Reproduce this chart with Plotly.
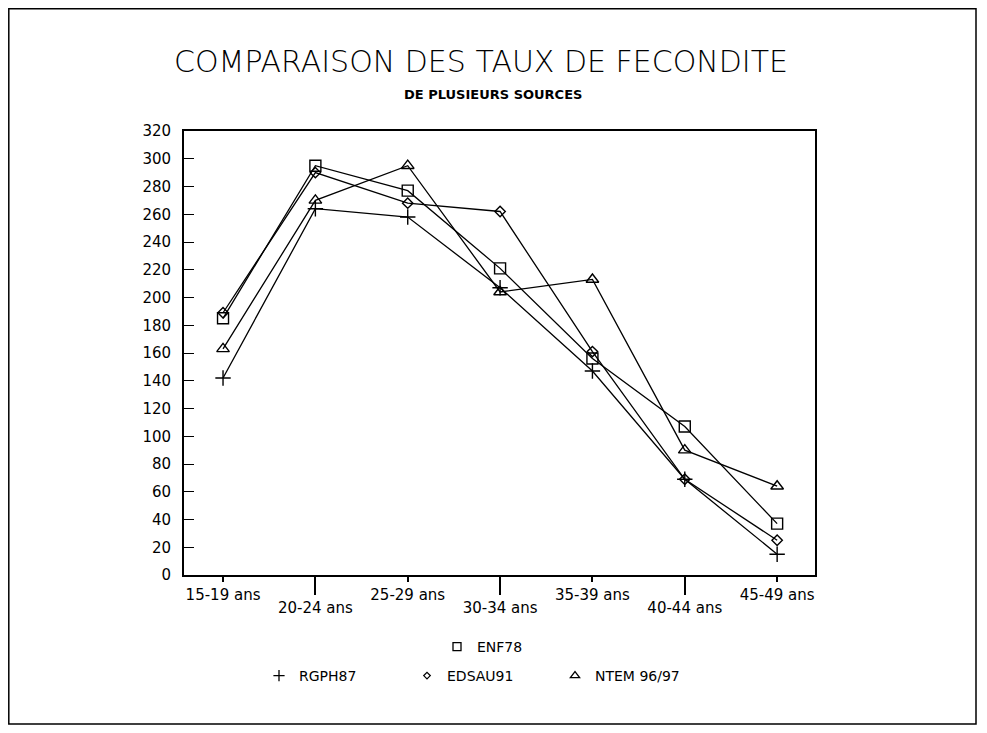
import plotly.graph_objects as go

categories = ["15-19 ans", "20-24 ans", "25-29 ans", "30-34 ans",
              "35-39 ans", "40-44 ans", "45-49 ans"]
enf78 = [185, 295, 277, 221, 156, 107, 37]
rgph87 = [142, 264, 258, 207, 147, 69, 15]
edsau91 = [189, 290, 268, 262, 161, 69, 25]
ntem9697 = [163, 270, 295, 204, 213, 90, 64]

title_text = "COMPARAISON DES TAUX DE FECONDITE"
subtitle_text = "DE PLUSIEURS SOURCES"

xpos = list(range(len(categories)))
even_idx = [i for i in xpos if i % 2 == 0]
odd_idx = [i for i in xpos if i % 2 == 1]

FONT = "DejaVu Sans"
# (name, values, symbol, size, legend, xaxis)
series = [
    ("ENF78", enf78, "square-open", 11, "legend", "x"),
    ("RGPH87", rgph87, "cross-thin-open", 11, "legend2", "x2"),
    ("EDSAU91", edsau91, "diamond-open", 8, "legend2", "x"),
    ("NTEM 96/97", ntem9697, "triangle-up-open", 11, "legend2", "x"),
]

# page offset (body margin) compensation
OFF = 8
W, H = 987 - 2 * OFF, 733 - 2 * OFF
L, R, T, B = 184 - OFF, 815 - OFF, 131 - OFF, 575 - OFF
xr = [-0.4226, 6.41]


def px_x(p):
    return (p - OFF - L) / (R - L)


def px_y(p):
    return (B - (p - OFF)) / (B - T)


fig = go.Figure()
for name, vals, sym, size, lg, xa in series:
    fig.add_trace(go.Scatter(
        x=xpos, y=vals, mode="lines+markers", name=name, xaxis=xa,
        line=dict(color="black", width=1.3),
        marker=dict(symbol=sym, size=size, color="black",
                    line=dict(color="black", width=1.4)),
        showlegend=False,
    ))
# legend-only entries (marker glyph only, as in the original)
for name, vals, sym, size, lg, xa in series:
    fig.add_trace(go.Scatter(
        x=[None], y=[None], mode="markers", name=name,
        marker=dict(symbol=sym, size=size - 3, color="black",
                    line=dict(color="black", width=1.3)),
        showlegend=True, legend=lg,
    ))

fig.update_layout(
    width=W, height=H,
    margin=dict(l=L, r=W - R, t=T, b=H - B, autoexpand=False),
    paper_bgcolor="white", plot_bgcolor="white",
    font=dict(family=FONT, size=13, color="black"),
    title=dict(text=title_text, x=(481 - OFF) / W, xref="container",
               xanchor="center", y=1 - (61 - OFF) / H, yref="container",
               yanchor="middle",
               font=dict(family=FONT, size=30, color="black", weight=300)),
    xaxis=dict(range=xr, tickmode="array", tickvals=even_idx,
               ticktext=[categories[i] for i in even_idx],
               ticks="outside", ticklen=5, tickwidth=1.5, tickcolor="black",
               showline=True, linecolor="black", linewidth=1.8, mirror=True,
               showgrid=False, zeroline=False,
               tickfont=dict(family=FONT, size=15)),
    xaxis2=dict(range=xr, overlaying="x", anchor="y", side="bottom",
                tickmode="array", tickvals=odd_idx,
                ticktext=[categories[i] for i in odd_idx],
                ticks="outside", ticklen=19, tickwidth=1.5, tickcolor="black",
                showline=False, showgrid=False, zeroline=False,
                tickfont=dict(family=FONT, size=15)),
    yaxis=dict(range=[0, 320], dtick=20, ticks="inside", ticklen=10,
               tickwidth=1.3, tickcolor="black",
               showline=True, linecolor="black", linewidth=1.8, mirror=True,
               showgrid=False, zeroline=False, ticklabelstandoff=8,
               tickfont=dict(family=FONT, size=15)),
    legend=dict(x=px_x(437), xanchor="left", y=px_y(631), yanchor="top",
                orientation="h", font=dict(family=FONT, size=14),
                bgcolor="rgba(0,0,0,0)", borderwidth=0),
    legend2=dict(x=px_x(259), xanchor="left", y=px_y(660), yanchor="top",
                 orientation="h", entrywidth=103, entrywidthmode="pixels",
                 font=dict(family=FONT, size=14),
                 bgcolor="rgba(0,0,0,0)", borderwidth=0),
    annotations=[dict(text="<b>" + subtitle_text + "</b>", x=px_x(493),
                      y=px_y(95), xref="paper", yref="paper",
                      xanchor="center", yanchor="middle", showarrow=False,
                      font=dict(family=FONT, size=13, color="black"))],
    shapes=[dict(type="rect", xref="paper", yref="paper",
                 x0=px_x(8.8), x1=px_x(976), y0=px_y(724), y1=px_y(8.8),
                 line=dict(color="black", width=1.5), layer="below")],
)

fig.write_html("out.html")
